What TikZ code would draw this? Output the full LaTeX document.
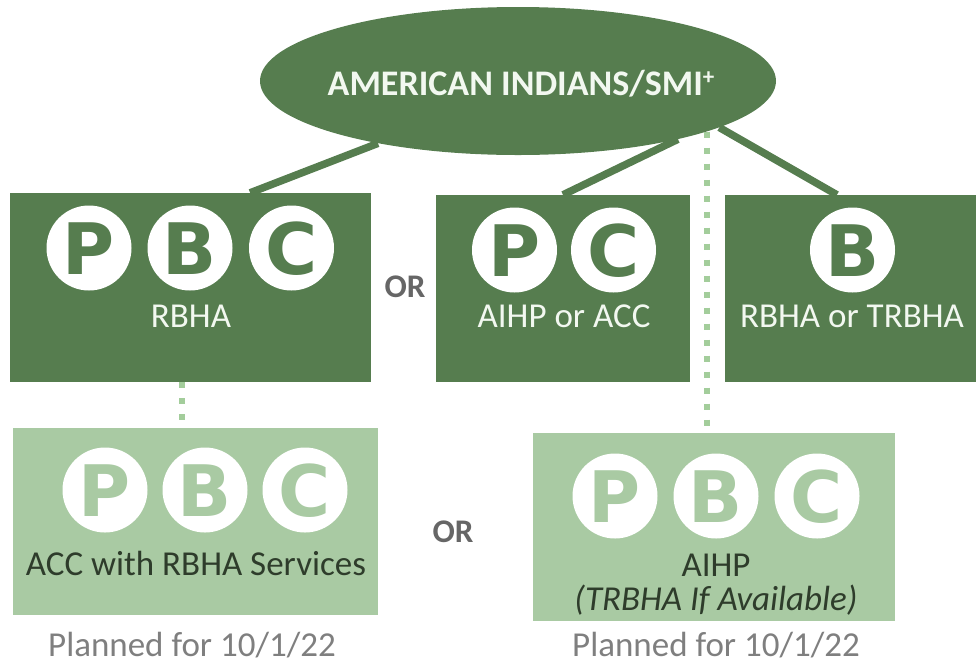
\documentclass[tikz,border=0pt]{standalone}
\usepackage{fontspec}
\setmainfont{Carlito}
\newfontfamily\badgefont{DejaVu Sans}
\usetikzlibrary{shapes.geometric,calc}
\definecolor{dkg}{HTML}{567D4F}
\definecolor{ltg}{HTML}{A9CAA3}
\definecolor{dotg}{HTML}{A3CD9B}
\definecolor{wtxt}{HTML}{F2F8F0}
\definecolor{ltxt}{HTML}{2E3C2B}
\definecolor{grytxt}{HTML}{7F7F7F}
\definecolor{ortxt}{HTML}{666666}
\tikzset{
 darkbox/.style={draw=none, fill=dkg, inner sep=0},
 lightbox/.style={draw=none, fill=ltg, inner sep=0},
 badge/.style={circle, fill=white, minimum size=85pt, inner sep=0, text height=52pt, text depth=0pt, font=\badgefont\bfseries\fontsize{71}{71}\selectfont},
 dkbadge/.style={badge, text=dkg},
 ltbadge/.style={badge, text=ltg},
 lbl/.style={anchor=base, inner sep=0, font=\fontsize{35}{40}\selectfont},
 link/.style={draw=dkg, line width=7.5pt},
 dotlink/.style={draw=dotg, line width=6pt, dash pattern=on 6pt off 10pt},
}
\begin{document}
\begin{tikzpicture}[x=1pt,y=-1pt]
\useasboundingbox (0,0) rectangle (976,665);
% top ellipse
\node[ellipse, fill=dkg, minimum width=516pt, minimum height=148pt, inner sep=0] (ell) at (518,81) {};
\node[lbl, text=wtxt, font=\bfseries\fontsize{36}{40}\selectfont] (elltxt) at (521,95) {AMERICAN INDIANS/SMI\raisebox{11pt}{\fontsize{23}{23}\selectfont +}};
% boxes
\node[darkbox, minimum width=361pt, minimum height=189pt] (b1) at (190.5,287.5) {};
\node[darkbox, minimum width=254pt, minimum height=187pt] (b2) at (563,288.5) {};
\node[darkbox, minimum width=251pt, minimum height=187pt] (b3) at (850.5,288.5) {};
\node[lightbox, minimum width=365pt, minimum height=187pt] (b4) at (195.5,521.5) {};
\node[lightbox, minimum width=362pt, minimum height=188pt] (b5) at (714,527) {};
% connectors
\draw[link] (ell.204) -- ($(b1.north west)!0.665!(b1.north east)$);
\draw[link] (ell.340) -- (b2.north);
\draw[link] (ell.347) -- ($(b3.north west)!0.446!(b3.north east)$);
\coordinate (d1) at ($(b1.south west)!0.477!(b1.south east)$);
\draw[dotlink] (d1) -- (d1 |- b4.north);
\draw[dotlink] (ell.345) -- (ell.345 |- b5.north);
% badges box 1
\node[dkbadge] (b1p) at (89,248) {P};
\node[dkbadge] (b1b) at (190,248) {B};
\node[dkbadge] (b1c) at (291.5,248) {C};
\node[lbl, text=wtxt] (b1t) at (191,327) {RBHA};
% box 2
\node[dkbadge] (b2p) at (514.5,250) {P};
\node[dkbadge] (b2c) at (613.5,250) {C};
\node[lbl, text=wtxt] (b2t) at (564,327) {AIHP or ACC};
% box 3
\node[dkbadge] (b3b) at (852.5,250) {B};
\node[lbl, text=wtxt] (b3t) at (852,327) {RBHA or TRBHA};
% box 4
\node[ltbadge] (b4p) at (105,490) {P};
\node[ltbadge] (b4b) at (205,490) {B};
\node[ltbadge] (b4c) at (305,490) {C};
\node[lbl, text=ltxt] (b4t) at (196,575) {ACC with RBHA Services};
% box 5
\node[ltbadge] (b5p) at (615,496) {P};
\node[ltbadge] (b5b) at (716,496) {B};
\node[ltbadge] (b5c) at (817,496) {C};
\node[lbl, text=ltxt] (b5t) at (716,576) {AIHP};
\node[lbl, text=ltxt, font=\itshape\fontsize{35}{40}\selectfont] (b5i) at (716,610) {(TRBHA If Available)};
% OR labels and notes
\node[lbl, text=ortxt, font=\bfseries\fontsize{33}{40}\selectfont] (or1) at (405,297) {OR};
\node[lbl, text=ortxt, font=\bfseries\fontsize{33}{40}\selectfont] (or2) at (453,542) {OR};
\node[lbl, text=grytxt] (pl1) at (192,656) {Planned for 10/1/22};
\node[lbl, text=grytxt] (pl2) at (716,656) {Planned for 10/1/22};
\end{tikzpicture}
\end{document}
